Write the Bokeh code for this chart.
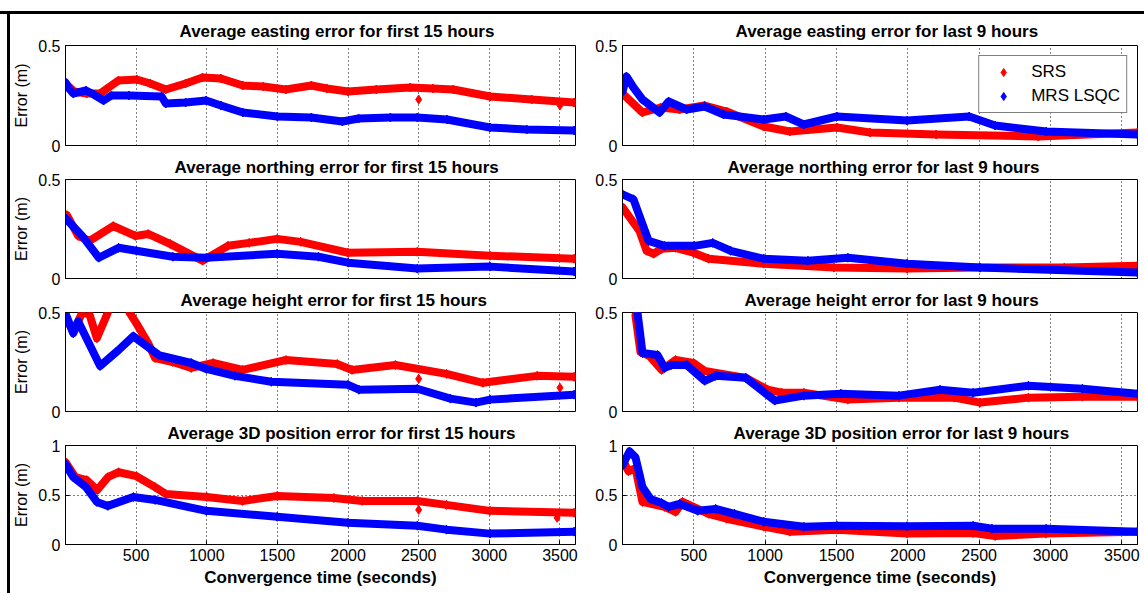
from bokeh.plotting import figure
from bokeh.layouts import column, row
from bokeh.models import (Range1d, FixedTicker, LinearAxis, Div, Legend, LegendItem, Grid)
from bokeh.embed import file_html
from bokeh.resources import INLINE

FONT = "Liberation Sans"

# ---------------- data (seconds, metres) ----------------
x_ticks = [500, 1000, 1500, 2000, 2500, 3000, 3500]
y_ticks_half = [0, 0.5]
y_ticks_one = [0, 0.5, 1]

titles = [
    "Average easting error for first 15 hours",
    "Average northing error for first 15 hours",
    "Average height error for first 15 hours",
    "Average 3D position error for first 15 hours",
    "Average easting error for last 9 hours",
    "Average northing error for last 9 hours",
    "Average height error for last 9 hours",
    "Average 3D position error for last 9 hours",
]
series_names = ["SRS", "MRS LSQC"]

# first 15 hours - easting
east15_t_srs = [0, 60, 150, 245, 375, 505, 600, 710, 850, 970, 1100, 1255, 1400, 1560, 1740, 1850, 2000, 2200, 2440, 2600, 2745, 3005, 3300, 3600]
east15_srs = [0.31, 0.27, 0.26, 0.26, 0.325, 0.33, 0.31, 0.28, 0.31, 0.34, 0.335, 0.30, 0.295, 0.28, 0.30, 0.285, 0.27, 0.28, 0.29, 0.285, 0.28, 0.245, 0.23, 0.215]
east15_t_lsqc = [0, 25, 55, 145, 200, 270, 325, 450, 680, 710, 850, 995, 1100, 1255, 1500, 1740, 1960, 2075, 2300, 2490, 2700, 3005, 3265, 3600]
east15_lsqc = [0.315, 0.285, 0.26, 0.275, 0.255, 0.225, 0.25, 0.25, 0.245, 0.21, 0.215, 0.225, 0.2, 0.165, 0.145, 0.14, 0.12, 0.135, 0.14, 0.14, 0.13, 0.09, 0.08, 0.075]
east15_out_t = [2500, 3500]
east15_out = [0.23, 0.2]

# first 15 hours - northing
north15_t_srs = [0, 10, 90, 170, 337, 495, 585, 740, 970, 1150, 1300, 1498, 1665, 2000, 2490, 3005, 3600]
north15_srs = [0.30, 0.32, 0.215, 0.19, 0.265, 0.215, 0.225, 0.175, 0.09, 0.165, 0.18, 0.2, 0.185, 0.13, 0.135, 0.115, 0.10]
north15_t_lsqc = [0, 118, 236, 376, 502, 760, 997, 1498, 1790, 2000, 2490, 3005, 3600]
north15_lsqc = [0.305, 0.215, 0.105, 0.155, 0.14, 0.11, 0.105, 0.125, 0.11, 0.08, 0.05, 0.06, 0.035]

# first 15 hours - height
height15_t_srs = [0, 55, 118, 170, 222, 300, 330, 420, 453, 502, 585, 634, 760, 890, 1045, 1254, 1561, 1923, 2028, 2335, 2697, 2955, 3338, 3600]
height15_srs = [0.48, 0.40, 0.5, 0.49, 0.37, 0.5, 0.6, 0.6, 0.5, 0.445, 0.345, 0.27, 0.25, 0.22, 0.245, 0.21, 0.26, 0.24, 0.21, 0.235, 0.19, 0.145, 0.18, 0.175]
height15_t_lsqc = [0, 55, 90, 245, 375, 480, 660, 890, 997, 1200, 1457, 2000, 2077, 2490, 2725, 2905, 3005, 3600]
height15_lsqc = [0.495, 0.395, 0.455, 0.23, 0.31, 0.38, 0.285, 0.245, 0.215, 0.18, 0.15, 0.135, 0.11, 0.115, 0.065, 0.045, 0.06, 0.085]
height15_out_t = [2500, 3500]
height15_out = [0.165, 0.12]

# first 15 hours - 3D
pos15_t_srs = [0, 70, 150, 225, 300, 376, 502, 634, 710, 1000, 1254, 1498, 1900, 2100, 2490, 2697, 3005, 3600]
pos15_srs = [0.83, 0.68, 0.65, 0.55, 0.68, 0.73, 0.69, 0.58, 0.51, 0.48, 0.44, 0.49, 0.47, 0.44, 0.44, 0.40, 0.34, 0.32]
pos15_t_lsqc = [0, 55, 145, 222, 300, 480, 634, 997, 1498, 2000, 2490, 2697, 3005, 3600]
pos15_lsqc = [0.81, 0.68, 0.58, 0.43, 0.39, 0.48, 0.45, 0.34, 0.28, 0.22, 0.19, 0.15, 0.11, 0.13]
pos15_out_t = [2500, 3480]
pos15_out = [0.35, 0.27]

# last 9 hours - easting
east9_t_srs = [0, 140, 267, 400, 576, 730, 990, 1173, 1503, 1735, 2198, 2915, 3610]
east9_srs = [0.26, 0.165, 0.19, 0.18, 0.2, 0.17, 0.095, 0.07, 0.09, 0.065, 0.055, 0.045, 0.065]
east9_t_lsqc = [0, 28, 77, 140, 260, 323, 450, 576, 709, 990, 1145, 1270, 1503, 1995, 2430, 2612, 2970, 3610]
east9_lsqc = [0.27, 0.345, 0.29, 0.23, 0.165, 0.22, 0.18, 0.195, 0.155, 0.13, 0.145, 0.105, 0.145, 0.125, 0.145, 0.1, 0.07, 0.055]

# last 9 hours - northing
north9_t_srs = [0, 119, 169, 218, 274, 372, 498, 604, 990, 1482, 1995, 2507, 3097, 3610]
north9_srs = [0.36, 0.24, 0.14, 0.125, 0.15, 0.155, 0.13, 0.1, 0.075, 0.055, 0.05, 0.055, 0.055, 0.065]
north9_t_lsqc = [0, 77, 140, 183, 295, 505, 632, 758, 990, 1300, 1580, 1995, 2507, 3610]
north9_lsqc = [0.425, 0.4, 0.275, 0.19, 0.165, 0.165, 0.18, 0.14, 0.1, 0.09, 0.105, 0.075, 0.055, 0.03]

# last 9 hours - height
height9_t_srs = [91, 126, 190, 274, 372, 498, 576, 864, 1018, 1117, 1271, 1580, 1938, 2325, 2507, 2845, 3224, 3610]
height9_srs = [0.485, 0.3, 0.28, 0.21, 0.26, 0.245, 0.205, 0.17, 0.11, 0.095, 0.095, 0.06, 0.07, 0.07, 0.045, 0.07, 0.075, 0.075]
height9_t_lsqc = [105, 119, 140, 246, 295, 344, 450, 576, 653, 864, 1068, 1271, 1531, 1938, 2226, 2458, 2845, 3224, 3610]
height9_lsqc = [0.5, 0.42, 0.295, 0.285, 0.22, 0.235, 0.235, 0.155, 0.18, 0.17, 0.055, 0.08, 0.09, 0.08, 0.11, 0.095, 0.13, 0.115, 0.09]

# last 9 hours - 3D
pos9_t_srs = [0, 42, 91, 140, 295, 372, 421, 604, 730, 990, 1173, 1503, 1995, 2458, 2612, 2970, 3610]
pos9_srs = [0.86, 0.74, 0.77, 0.43, 0.38, 0.33, 0.43, 0.31, 0.26, 0.18, 0.13, 0.15, 0.11, 0.115, 0.085, 0.11, 0.13]
pos9_t_lsqc = [0, 49, 91, 119, 140, 197, 274, 323, 400, 527, 653, 786, 990, 1271, 1503, 1995, 2458, 2590, 2970, 3610]
pos9_lsqc = [0.8, 0.94, 0.88, 0.71, 0.58, 0.46, 0.42, 0.38, 0.41, 0.34, 0.36, 0.31, 0.23, 0.18, 0.19, 0.185, 0.19, 0.16, 0.16, 0.13]

RED = "#ff0000"
BLUE = "#0000ff"

# title left offsets (px from the plot frame's left edge)
title_offsets = [114, 109, 115, 102, 113, 105, 122, 111]


def style_axis(ax):
    ax.axis_line_color = "black"
    ax.major_tick_in = 4
    ax.major_tick_out = 0
    ax.minor_tick_in = 0
    ax.minor_tick_out = 0
    ax.major_tick_line_color = "black"
    ax.major_label_text_font = FONT
    ax.major_label_text_font_size = "16px"
    ax.major_label_text_color = "black"
    ax.axis_label_text_color = "black"


def make_panel(idx, ts, vs, tl, vl, ymax, left, row_i, out_t=None, out_v=None, legend=False):
    bottom = row_i == 3
    top = row_i == 0
    width = 580 if left else 554
    mbt = 31 if top else 25
    mbb = 49 if bottom else 8
    height = mbt + 100 + mbb
    p = figure(width=width, height=height,
               x_range=Range1d(0, 3610), y_range=Range1d(0, ymax),
               output_backend="svg", toolbar_location=None,
               x_axis_type=None, y_axis_type=None,
               min_border_left=47 if left else 32, min_border_right=15 if left else 7,
               min_border_top=mbt, min_border_bottom=mbb,
               title=titles[idx])
    p.background_fill_color = "white"
    p.border_fill_color = "white"
    p.outline_line_color = "black"
    p.outline_line_alpha = 1
    p.title.text_font = FONT
    p.title.text_font_size = "17px"
    p.title.text_font_style = "bold"
    p.title.align = "left"
    p.title.offset = title_offsets[idx]
    p.title.standoff = 9 if top else 5
    p.title.text_color = "black"

    xt = FixedTicker(ticks=x_ticks)
    yt = FixedTicker(ticks=y_ticks_one if ymax == 1 else y_ticks_half)

    if bottom:
        xb = LinearAxis(ticker=xt)
        style_axis(xb)
        xb.major_label_standoff = 4
        xb.axis_label = "Convergence time (seconds)"
        xb.axis_label_text_font = FONT
        xb.axis_label_text_font_size = "17px"
        xb.axis_label_text_font_style = "bold"
        xb.axis_label_standoff = 4
        p.add_layout(xb, "below")

    yl = LinearAxis(ticker=yt, major_label_overrides={0: "0", 0.5: "0.5", 1: "1"})
    style_axis(yl)
    yl.major_label_standoff = 5
    if left:
        yl.axis_label = "Error (m)"
        yl.axis_label_text_font = FONT
        yl.axis_label_text_font_size = "16px"
        yl.axis_label_text_font_style = "normal"
        yl.axis_label_standoff = 5
    p.add_layout(yl, "left")

    p.add_layout(Grid(dimension=0, ticker=xt, grid_line_color="black", grid_line_dash="1 3", grid_line_width=1))
    p.add_layout(Grid(dimension=1, ticker=yt, grid_line_color="black", grid_line_dash="1 3", grid_line_width=1))

    p.line(ts, vs, line_color=RED, line_width=8, line_join="round", line_cap="round")
    r_srs = p.scatter(ts, vs, marker="diamond", size=9, color=RED)
    if out_t:
        p.scatter(out_t, out_v, marker="diamond", size=9, color=RED)
    p.line(tl, vl, line_color=BLUE, line_width=8, line_join="round", line_cap="round")
    r_lsqc = p.scatter(tl, vl, marker="diamond", size=9, color=BLUE)

    if legend:
        lg = Legend(items=[LegendItem(label=series_names[0], renderers=[r_srs]),
                           LegendItem(label=series_names[1], renderers=[r_lsqc])],
                    location="top_right", margin=10, padding=6, spacing=4,
                    glyph_width=36, glyph_height=20, label_height=20, label_standoff=10,
                    label_text_font=FONT, label_text_font_size="17px", label_text_color="black",
                    border_line_color="black", border_line_width=1,
                    background_fill_color="white", background_fill_alpha=1)
        p.add_layout(lg)
    return p


p1 = make_panel(0, east15_t_srs, east15_srs, east15_t_lsqc, east15_lsqc, 0.5, True, 0, east15_out_t, east15_out)
p2 = make_panel(1, north15_t_srs, north15_srs, north15_t_lsqc, north15_lsqc, 0.5, True, 1)
p3 = make_panel(2, height15_t_srs, height15_srs, height15_t_lsqc, height15_lsqc, 0.5, True, 2, height15_out_t, height15_out)
p4 = make_panel(3, pos15_t_srs, pos15_srs, pos15_t_lsqc, pos15_lsqc, 1, True, 3, pos15_out_t, pos15_out)
p5 = make_panel(4, east9_t_srs, east9_srs, east9_t_lsqc, east9_lsqc, 0.5, False, 0, legend=True)
p6 = make_panel(5, north9_t_srs, north9_srs, north9_t_lsqc, north9_lsqc, 0.5, False, 1)
p7 = make_panel(6, height9_t_srs, height9_srs, height9_t_lsqc, height9_lsqc, 0.5, False, 2)
p8 = make_panel(7, pos9_t_srs, pos9_srs, pos9_t_lsqc, pos9_lsqc, 1, False, 3)

grid = column(row(p1, p5, spacing=0, margin=0), row(p2, p6, spacing=0, margin=0),
              row(p3, p7, spacing=0, margin=0), row(p4, p8, spacing=0, margin=0),
              spacing=0, margin=0)

top_gap = Div(width=1144, height=11, text="", margin=0)
top_line = Div(width=1144, height=3, text="", margin=0, styles={"background-color": "black"})
left_gap = Div(width=7, height=579, text="", margin=0)
left_line = Div(width=3, height=579, text="", margin=0, styles={"background-color": "black"})

layout = column(top_gap, top_line, row(left_gap, left_line, grid, spacing=0, margin=0), spacing=0, margin=0)

open("out.html", "w").write(file_html(layout, INLINE))
